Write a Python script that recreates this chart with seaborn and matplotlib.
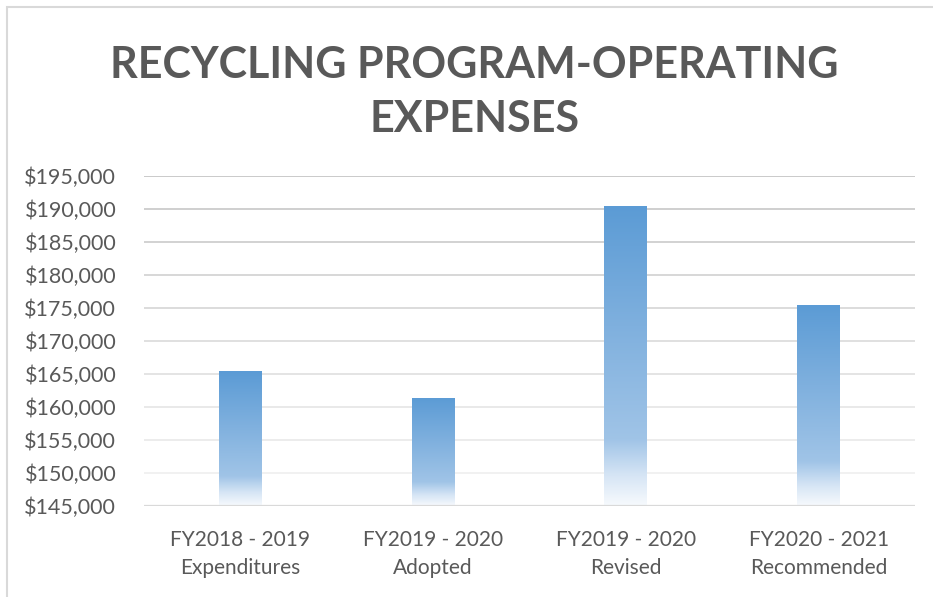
import numpy as np
import pandas as pd
import matplotlib
matplotlib.use("Agg")
import matplotlib.pyplot as plt
import seaborn as sns
from matplotlib.colors import LinearSegmentedColormap, to_rgb
from matplotlib.patches import Rectangle

# Chart data
categories = ["FY2018 - 2019\nExpenditures", "FY2019 - 2020\nAdopted",
              "FY2019 - 2020\nRevised", "FY2020 - 2021\nRecommended"]
expenses = [165400, 161400, 190500, 175500]
y_ticks = [145000, 150000, 155000, 160000, 165000, 170000,
           175000, 180000, 185000, 190000, 195000]
title_lines = ["RECYCLING PROGRAM-OPERATING", "EXPENSES"]

df = pd.DataFrame({"category": categories, "expense": expenses})

sns.set_theme(style="white")
plt.rcParams["font.family"] = ["Lato", "DejaVu Sans"]

W, H = 933, 597
fig = plt.figure(figsize=(W / 100, H / 100), dpi=100)
fig.patch.set_facecolor("white")

# Outer chart frame (top and left edges visible)
fig.patches.append(Rectangle((7 / W, -0.1), 1.2, (H - 6.5) / H + 0.1,
                             transform=fig.transFigure, fill=False,
                             edgecolor="#D9D9D9", linewidth=1.5))

ax = fig.add_axes([144 / W, 1 - 506 / H, (915 - 144) / W, (506 - 176) / H])
sns.barplot(data=df, x="category", y="expense", ax=ax, width=0.223,
            color="#5B9BD5", saturation=1)

ax.set_ylim(y_ticks[0], y_ticks[-1])
ax.set_yticks(y_ticks)
ax.set_yticklabels([f"${v:,.0f}" for v in y_ticks])
ax.set_xlabel("")
ax.set_ylabel("")
for s in ax.spines.values():
    s.set_visible(False)

grey = "#595959"
ax.tick_params(axis="y", length=0, pad=20, labelsize=15.5, labelcolor=grey)
ax.tick_params(axis="x", length=0, pad=17, labelsize=15, labelcolor=grey)
for lab in ax.get_xticklabels():
    lab.set_linespacing(1.55)

# Gridlines fading from darker at top to lighter at bottom
top_c = np.array(to_rgb("#C6C6C6"))
bot_c = np.array(to_rgb("#F0F0F0"))
for v in y_ticks[1:]:
    t = (v - y_ticks[1]) / (y_ticks[-1] - y_ticks[1])
    c = bot_c + (top_c - bot_c) * t
    ax.axhline(v, color=c, linewidth=1.3, zorder=0.5)
ax.axhline(y_ticks[0], color="#D9D9D9", linewidth=1.6, zorder=3)

# Vertical gradient fill for each bar
cmap = LinearSegmentedColormap.from_list(
    "bar_fade",
    [(0.0, "#F7FAFD"), (0.10, "#D6E5F5"), (0.22, "#A0C4E7"),
     (0.60, "#7FB0DE"), (1.0, "#5B9BD5")])
grad = np.linspace(0, 1, 256).reshape(-1, 1)
for patch in ax.patches:
    x0, y0 = patch.get_x(), patch.get_y()
    w, h = patch.get_width(), patch.get_height()
    patch.set_facecolor("none")
    patch.set_edgecolor("none")
    im = ax.imshow(grad, cmap=cmap, origin="lower", aspect="auto",
                   extent=[x0, x0 + w, y_ticks[0], y0 + h],
                   interpolation="bilinear", zorder=2)
    im.set_clip_path(patch)
ax.set_xlim(-0.5, len(categories) - 0.5)
ax.set_ylim(y_ticks[0], y_ticks[-1])

# Two-line title
for line, yc in zip(title_lines, [78, 132]):
    fig.text(474.5 / W, 1 - yc / H, line, ha="center", va="baseline",
             fontsize=31, fontweight="bold", color=grey)

fig.savefig("out.png", dpi=100, facecolor="white")
